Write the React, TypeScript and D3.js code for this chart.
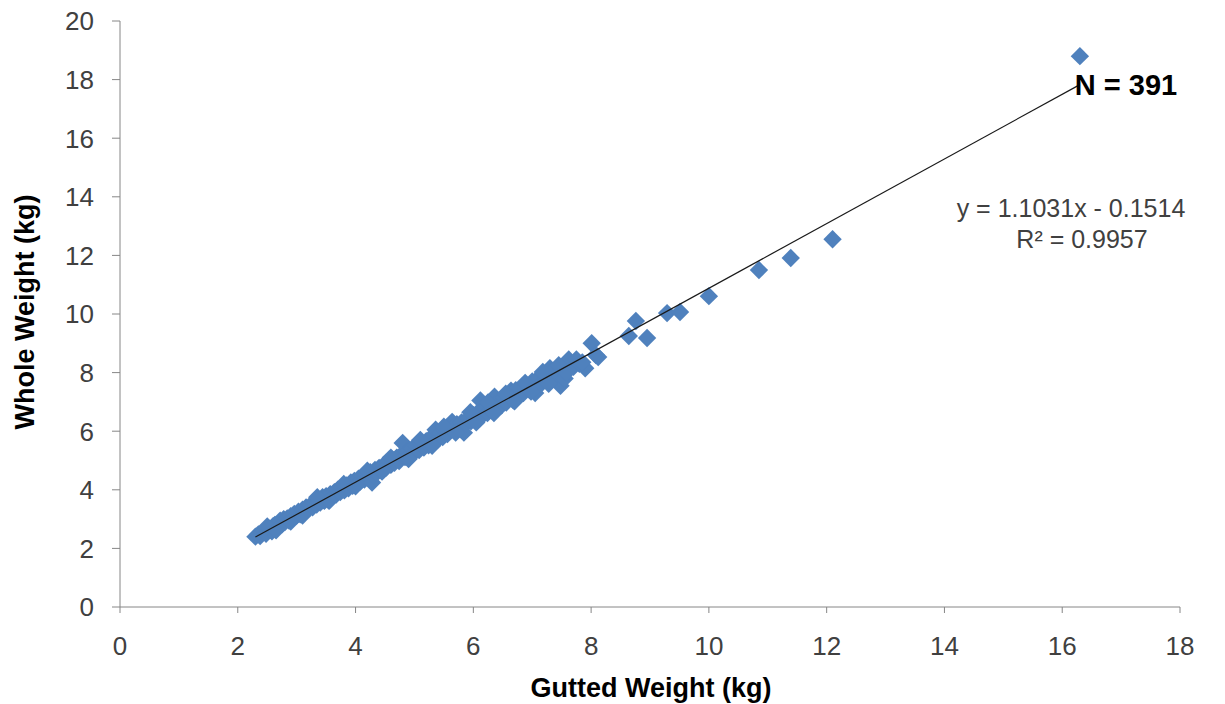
import React from "react";
import * as d3 from "d3";

const xTicks = [0, 2, 4, 6, 8, 10, 12, 14, 16, 18];
const yTicks = [0, 2, 4, 6, 8, 10, 12, 14, 16, 18, 20];

const gutted = [
  2.30, 2.35, 2.38, 2.42, 2.45, 2.48, 2.52, 2.55, 2.58, 2.60, 2.63, 2.66, 2.70, 2.72, 2.75, 2.78, 2.80, 2.84, 2.87, 2.90,
  2.93, 2.96, 3.00, 3.03, 3.06, 3.10, 3.13, 3.16, 3.20, 3.24, 3.27, 3.30, 3.34, 3.37, 3.40, 3.44, 3.47, 3.50, 3.54, 3.57,
  3.60, 3.64, 3.67, 3.70, 3.74, 3.78, 3.81, 3.85, 3.88, 3.92, 3.95, 3.98, 4.02, 4.05, 4.08, 4.12, 4.15, 4.18, 4.22, 4.25,
  4.28, 4.30, 4.33, 4.36, 4.40, 4.44, 4.48, 4.52, 4.56, 4.60, 4.63, 4.66, 4.70, 4.74, 4.78, 4.80, 4.84, 4.88, 4.92, 4.96,
  5.00, 5.04, 5.08, 5.12, 5.16, 5.20, 5.24, 5.28, 5.32, 5.36, 5.40, 5.44, 5.48, 5.52, 5.56, 5.60, 5.64, 5.68, 5.72, 5.76,
  5.80, 5.84, 5.88, 5.92, 5.96, 6.00, 6.04, 6.08, 6.12, 6.16, 6.20, 6.24, 6.28, 6.32, 6.36, 6.40, 6.44, 6.48, 6.52, 6.56,
  6.60, 6.64, 6.68, 6.72, 6.76, 6.80, 6.85, 6.90, 6.95, 7.00, 7.05, 7.10, 7.15, 7.20, 7.25, 7.30, 7.35, 7.40, 7.48, 7.55,
  7.62, 7.70, 7.80, 7.90, 8.01, 8.08, 8.12, 8.64, 8.76, 8.95, 9.29, 9.51, 10.00, 10.85, 11.39, 12.10, 16.30,
  2.50, 2.65, 2.90, 3.10, 3.35, 3.55, 3.80, 4.00, 4.20, 4.45, 4.60, 4.90, 5.10, 5.30, 5.50, 5.70, 5.95, 6.05, 6.25, 6.35,
  6.55, 6.70, 6.88, 6.98, 7.18, 7.28, 7.45, 7.58, 7.75, 7.85
];

const whole = [
  2.40, 2.48, 2.42, 2.55, 2.60, 2.50, 2.70, 2.64, 2.58, 2.76, 2.80, 2.72, 2.86, 2.95, 2.82, 3.00, 2.90, 3.02, 2.95, 3.10,
  3.04, 3.18, 3.12, 3.25, 3.16, 3.32, 3.24, 3.40, 3.35, 3.48, 3.40, 3.55, 3.50, 3.62, 3.56, 3.75, 3.62, 3.78, 3.70, 3.85,
  3.76, 3.92, 3.84, 4.00, 3.92, 4.08, 3.98, 4.15, 4.05, 4.25, 4.14, 4.30, 4.22, 4.38, 4.28, 4.45, 4.35, 4.52, 4.44, 4.60,
  4.25, 4.50, 4.68, 4.58, 4.75, 4.66, 4.85, 4.76, 4.95, 4.85, 5.02, 4.92, 5.10, 4.98, 5.20, 5.60, 5.12, 5.30, 5.18, 5.40,
  5.28, 5.50, 5.36, 5.58, 5.44, 5.66, 5.52, 5.78, 5.62, 6.05, 5.72, 5.94, 5.80, 6.02, 5.90, 6.12, 6.32, 6.02, 6.24, 6.10,
  6.30, 5.95, 6.26, 6.45, 6.34, 6.55, 6.42, 6.65, 7.05, 6.55, 6.80, 6.62, 6.92, 6.70, 7.18, 6.80, 7.05, 6.88, 7.15, 6.98,
  7.22, 7.38, 7.05, 7.40, 7.18, 7.45, 7.30, 7.58, 7.42, 7.70, 7.30, 7.80, 7.62, 7.95, 7.75, 8.15, 8.05, 7.90, 7.55, 7.80,
  8.45, 8.20, 8.30, 8.15, 9.00, 8.60, 8.53, 9.25, 9.76, 9.18, 10.03, 10.07, 10.61, 11.50, 11.91, 12.55, 18.80,
  2.75, 2.62, 2.92, 3.12, 3.75, 3.62, 4.20, 4.12, 4.65, 4.62, 5.10, 5.05, 5.70, 5.50, 6.15, 5.95, 6.65, 6.30, 6.98, 6.62,
  7.28, 7.02, 7.65, 7.35, 8.02, 7.62, 8.25, 8.00, 8.45, 8.35
];

const slope = 1.1031;
const intercept = -0.1514;

export default function App() {
  const W = 1225;
  const H = 704;
  const x = d3.scaleLinear().domain([0, 18]).range([120, 1180]);
  const y = d3.scaleLinear().domain([0, 20]).range([607, 21]);
  const fitX = [d3.min(gutted) as number, d3.max(gutted) as number];
  const line = d3
    .line<number>()
    .x((d) => x(d))
    .y((d) => y(slope * d + intercept));
  const diamond = d3.symbol().type(d3.symbolDiamond2).size(215)() as string;
  const axisColor = "#868686";
  const font = "'Liberation Sans', Arial, sans-serif";
  return (
    <svg width={W} height={H} style={{ position: "absolute", left: 0, top: 0, background: "#fff" }} fontFamily={font}>
      <rect x={0} y={0} width={W} height={H} fill="#fff" />
      {/* axes */}
      <line x1={x(0)} x2={x(0)} y1={y(20)} y2={y(0)} stroke={axisColor} strokeWidth={1} />
      <line x1={x(0)} x2={x(18)} y1={y(0)} y2={y(0)} stroke={axisColor} strokeWidth={1} />
      {yTicks.map((t) => (
        <g key={"y" + t}>
          <line x1={x(0) - 8} x2={x(0)} y1={y(t)} y2={y(t)} stroke={axisColor} />
          <text x={94} y={y(t)} dy="0.36em" textAnchor="end" fontSize={26} fill="#404040">
            {t}
          </text>
        </g>
      ))}
      {xTicks.map((t) => (
        <g key={"x" + t}>
          <line x1={x(t)} x2={x(t)} y1={y(0)} y2={y(0) + 6} stroke={axisColor} />
          <text x={x(t)} y={655} textAnchor="middle" fontSize={26} fill="#404040">
            {t}
          </text>
        </g>
      ))}
      {/* points */}
      {gutted.map((g, i) => (
        <path key={i} d={diamond} transform={`translate(${x(g)},${y(whole[i])})`} fill="#4F81BD" />
      ))}
      {/* trend line */}
      <path d={line(fitX) as string} stroke="#1a1a1a" strokeWidth={1.2} fill="none" />
      {/* labels */}
      <text x={1126} y={95} textAnchor="middle" fontSize={29} fontWeight="bold" fill="#000">
        N = 391
      </text>
      <text x={1071} y={217} textAnchor="middle" fontSize={25} fill="#404040">
        y = 1.1031x - 0.1514
      </text>
      <text x={1082} y={248} textAnchor="middle" fontSize={25} fill="#404040">
        R² = 0.9957
      </text>
      <text x={651} y={697} textAnchor="middle" fontSize={27} fontWeight="bold" fill="#000">
        Gutted Weight (kg)
      </text>
      <text transform="translate(34,312) rotate(-90)" textAnchor="middle" fontSize={27} fontWeight="bold" fill="#000">
        Whole Weight (kg)
      </text>
    </svg>
  );
}
